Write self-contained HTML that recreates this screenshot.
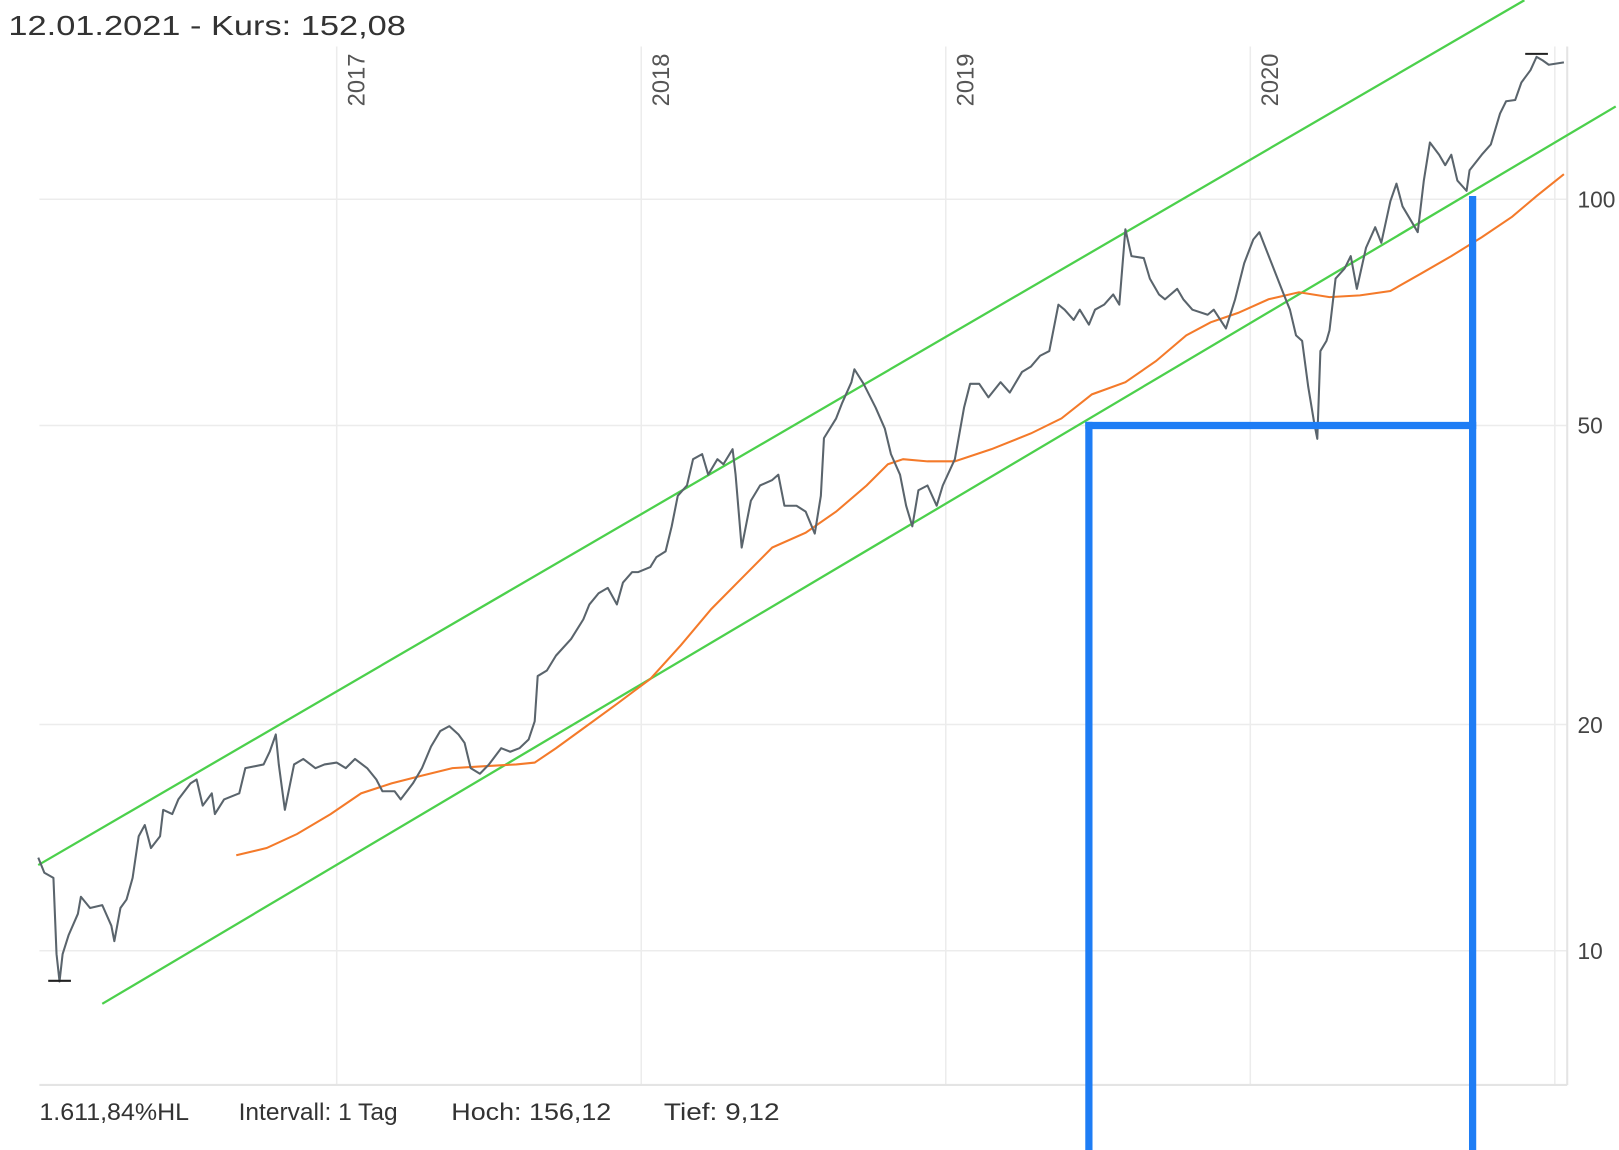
<!DOCTYPE html>
<html><head><meta charset="utf-8"><style>
html,body{margin:0;padding:0;background:#fff;width:1619px;height:1150px;overflow:hidden}
svg{display:block;font-family:"Liberation Sans",sans-serif}
</style></head><body>
<svg id="chart" width="1619" height="1150" viewBox="0 0 1568 1114" xmlns="http://www.w3.org/2000/svg">
<text x="8" y="34" font-size="27" fill="#333" textLength="385" lengthAdjust="spacingAndGlyphs">12.01.2021  - Kurs: 152,08</text>
<g id="grid"></g>
<g id="series"></g>
<g id="footer" font-size="23" fill="#333">
<text x="38" y="1085" textLength="145" lengthAdjust="spacingAndGlyphs">1.611,84%HL</text>
<text x="231" y="1085" textLength="154" lengthAdjust="spacingAndGlyphs">Intervall: 1 Tag</text>
<text x="437" y="1085" textLength="155" lengthAdjust="spacingAndGlyphs">Hoch:  156,12</text>
<text x="643" y="1085" textLength="112" lengthAdjust="spacingAndGlyphs">Tief:  9,12</text>
</g>
</svg>
<script>
const yearTicks=[2017,2018,2019,2020,2021];
const yearLabels=["2017","2018","2019","2020",""];
const valueTicks=[10,20,50,100];
const valueLabels=["10","20","50","100"];
const priceDates=[2016.02,2016.04,2016.07,2016.08,2016.09,2016.10,2016.12,2016.15,2016.16,2016.19,2016.23,2016.26,2016.27,2016.29,2016.31,2016.33,2016.35,2016.37,2016.39,2016.42,2016.43,2016.46,2016.48,2016.52,2016.54,2016.56,2016.59,2016.60,2016.63,2016.68,2016.70,2016.76,2016.78,2016.80,2016.81,2016.83,2016.86,2016.89,2016.93,2016.96,2017.00,2017.03,2017.06,2017.10,2017.13,2017.15,2017.19,2017.21,2017.25,2017.28,2017.31,2017.34,2017.37,2017.40,2017.42,2017.44,2017.47,2017.50,2017.54,2017.57,2017.60,2017.63,2017.65,2017.66,2017.69,2017.72,2017.77,2017.81,2017.83,2017.86,2017.89,2017.92,2017.94,2017.97,2017.99,2018.03,2018.05,2018.08,2018.10,2018.12,2018.15,2018.17,2018.20,2018.22,2018.25,2018.27,2018.30,2018.31,2018.33,2018.36,2018.39,2018.43,2018.45,2018.47,2018.51,2018.54,2018.57,2018.59,2018.60,2018.64,2018.66,2018.69,2018.70,2018.73,2018.77,2018.80,2018.82,2018.85,2018.87,2018.89,2018.91,2018.94,2018.97,2018.99,2019.03,2019.06,2019.08,2019.11,2019.14,2019.18,2019.21,2019.25,2019.28,2019.31,2019.34,2019.37,2019.39,2019.42,2019.44,2019.47,2019.49,2019.52,2019.55,2019.57,2019.59,2019.61,2019.65,2019.67,2019.70,2019.72,2019.76,2019.78,2019.81,2019.86,2019.88,2019.92,2019.95,2019.98,2020.01,2020.03,2020.05,2020.07,2020.11,2020.13,2020.15,2020.17,2020.19,2020.21,2020.22,2020.23,2020.25,2020.26,2020.28,2020.31,2020.33,2020.35,2020.38,2020.41,2020.43,2020.46,2020.48,2020.50,2020.52,2020.55,2020.57,2020.59,2020.62,2020.64,2020.66,2020.68,2020.71,2020.72,2020.76,2020.79,2020.82,2020.84,2020.87,2020.89,2020.92,2020.94,2020.96,2020.98,2021.03];
const priceValues=[13.3,12.7,12.5,9.9,9.1,9.9,10.5,11.2,11.8,11.4,11.5,10.8,10.3,11.4,11.7,12.5,14.2,14.7,13.7,14.2,15.4,15.2,15.9,16.7,16.9,15.6,16.2,15.2,15.9,16.2,17.5,17.7,18.4,19.4,17.7,15.4,17.7,18.0,17.5,17.7,17.8,17.5,18.0,17.5,16.9,16.3,16.3,15.9,16.7,17.5,18.7,19.6,19.9,19.4,18.9,17.5,17.2,17.7,18.6,18.4,18.6,19.1,20.2,23.2,23.6,24.7,26.0,27.6,28.9,29.9,30.4,28.9,30.9,31.9,31.9,32.4,33.4,34.0,36.7,40.3,41.6,45.1,45.8,43.0,45.1,44.4,46.5,43.0,34.4,39.7,41.6,42.3,43.0,39.1,39.1,38.4,35.9,40.3,48.1,51.1,53.6,57.1,59.4,56.8,52.8,49.5,45.8,43.0,39.1,36.7,41.0,41.6,39.1,41.6,45.1,52.8,56.8,56.8,54.5,57.1,55.3,58.9,59.9,61.9,62.8,72.4,71.3,69.1,71.3,68.1,71.3,72.4,74.7,72.4,91.2,84.0,83.5,78.4,74.7,73.6,76.0,73.6,71.3,70.2,71.3,67.3,73.6,82.2,88.4,90.4,86.2,82.2,74.7,71.3,65.9,64.8,56.3,50.3,48.0,62.8,64.8,66.9,78.4,80.9,84.0,76.0,86.2,91.8,87.5,99.4,104.9,97.8,94.8,90.4,105.9,119,114.6,111,114.6,105.9,102.6,109.3,114.6,118.3,130,135,135.5,143,148.5,154.7,153,151,152.1];
const maDates=[2016.67,2016.77,2016.87,2016.98,2017.08,2017.18,2017.28,2017.38,2017.48,2017.59,2017.65,2017.72,2017.82,2017.92,2018.03,2018.13,2018.23,2018.33,2018.43,2018.54,2018.64,2018.74,2018.81,2018.86,2018.94,2019.03,2019.15,2019.28,2019.38,2019.48,2019.59,2019.69,2019.79,2019.87,2019.96,2020.06,2020.16,2020.26,2020.36,2020.46,2020.56,2020.66,2020.76,2020.86,2020.94,2021.03];
const maValues=[13.4,13.7,14.3,15.2,16.2,16.7,17.1,17.5,17.6,17.7,17.8,18.6,19.9,21.3,23.0,25.5,28.5,31.3,34.4,36.0,38.4,41.6,44.4,45.1,44.8,44.8,46.5,48.8,51.1,55.0,57.1,60.9,65.9,68.6,70.6,73.6,75.2,74.1,74.5,75.5,79.6,84.0,89.0,94.8,101,108];
const channelUpperDates=[2016.02,2020.90];
const channelUpperValues=[13.0,184];
const channelLowerDates=[2016.23,2021.20];
const channelLowerValues=[8.5,132.9];
const markDates=[2019.47,2020.73];
const markLevel=50;
const markTop=101;
const highLow={lowDate:2016.09,low:9.12,highDate:2020.94,high:156.12};

const X0=38,X1=1518,Y0=45,Y1=1051;
function xs(d){return 326+(d-2017)*295;}
function ys(v){return 193+728*(2-Math.log10(v));}
const NS="http://www.w3.org/2000/svg";
function mk(tag,attrs,parent){const e=document.createElementNS(NS,tag);for(const k in attrs)e.setAttribute(k,attrs[k]);parent.appendChild(e);return e;}
const grid=document.getElementById('grid'),ser=document.getElementById('series');

yearTicks.forEach((yr,i)=>{
  const x=xs(yr);
  const l=mk('line',{x1:x,x2:x,y1:Y0,y2:Y1,stroke:'#ececec','stroke-width':1.5},grid);
  
  
  if(yearLabels[i]){
    const t=mk('text',{x:x+27,y:103,'font-size':23,fill:'#555',transform:'rotate(-90 '+(x+27)+' 103)'},grid);
    t.textContent=yearLabels[i];
    
    
  }
});
valueTicks.forEach((v,i)=>{
  const y=ys(v);
  const l=mk('line',{x1:X0,x2:X1,y1:y,y2:y,stroke:'#ececec','stroke-width':1.5},grid);
  
  
  const t=mk('text',{x:1528,y:y+8,'font-size':22,fill:'#444'},grid);
  t.textContent=valueLabels[i];
  
  
});
const bx=mk('line',{x1:X0,x2:X1,y1:Y1,y2:Y1,stroke:'#e4e4e4','stroke-width':2},grid);


const rx=mk('line',{x1:X1,x2:X1,y1:Y0,y2:Y1,stroke:'#e4e4e4','stroke-width':2},grid);



function pts(ds,vs){return ds.map((d,i)=>xs(d).toFixed(1)+','+ys(vs[i]).toFixed(1)).join(' ');}

const cu=mk('polyline',{points:pts(channelUpperDates,channelUpperValues),fill:'none',stroke:'#4cd04c','stroke-width':2.2},ser);


const cl=mk('polyline',{points:pts(channelLowerDates,channelLowerValues),fill:'none',stroke:'#4cd04c','stroke-width':2.2},ser);



const ma=mk('polyline',{points:pts(maDates,maValues),fill:'none',stroke:'#f47a2a','stroke-width':2},ser);



const pr=mk('polyline',{points:pts(priceDates,priceValues),fill:'none',stroke:'#5a646c','stroke-width':2,'stroke-linejoin':'round'},ser);



const lo=mk('line',{x1:xs(highLow.lowDate)-11,x2:xs(highLow.lowDate)+11,y1:ys(highLow.low),y2:ys(highLow.low),stroke:'#222','stroke-width':2},ser);


const hi=mk('line',{x1:xs(highLow.highDate)-11,x2:xs(highLow.highDate)+11,y1:ys(highLow.high),y2:ys(highLow.high),stroke:'#222','stroke-width':2},ser);



const xa=xs(markDates[0]),xb=xs(markDates[1]),yl=ys(markLevel);
const b1=mk('line',{x1:xa,x2:xa,y1:yl-3.5,y2:1114,stroke:'#1e7df5','stroke-width':7},ser);


const b2=mk('line',{x1:xa-3.5,x2:xb+3.5,y1:yl,y2:yl,stroke:'#1e7df5','stroke-width':7},ser);


const b3=mk('line',{x1:xb,x2:xb,y1:ys(markTop),y2:1114,stroke:'#1e7df5','stroke-width':7},ser);


</script>
</body></html>
